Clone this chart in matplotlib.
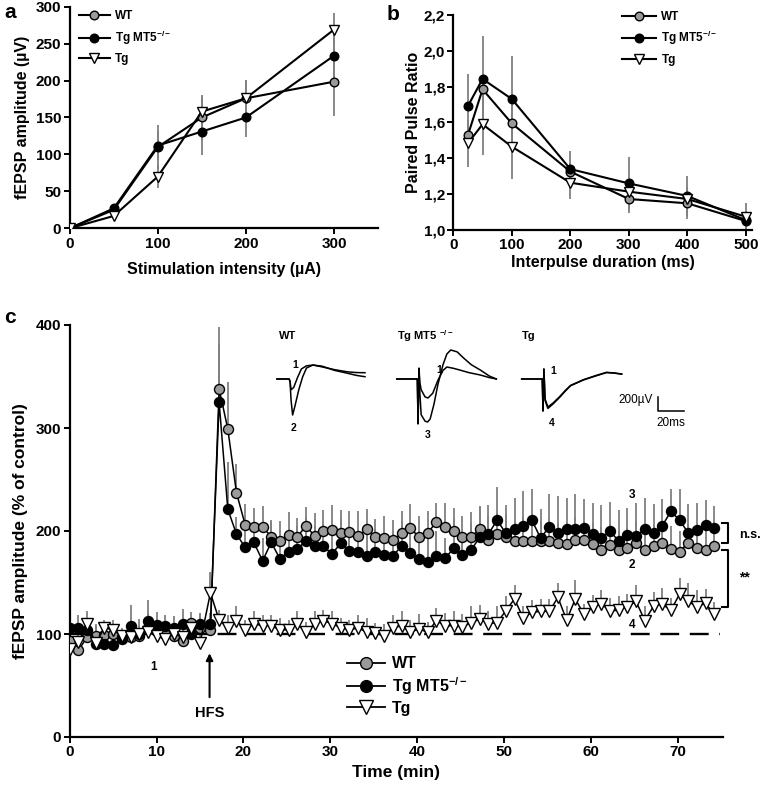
import numpy as np
import matplotlib
matplotlib.use("Agg")
import matplotlib.pyplot as plt
from matplotlib.lines import Line2D
from matplotlib.ticker import FuncFormatter

plt.rcParams['font.family'] = ['Liberation Sans', 'DejaVu Sans']
plt.rcParams['font.weight'] = 'bold'
plt.rcParams['axes.labelweight'] = 'bold'
plt.rcParams['mathtext.fontset'] = 'custom'
plt.rcParams['mathtext.rm'] = 'Liberation Sans'
plt.rcParams['mathtext.it'] = 'Liberation Sans:italic'
plt.rcParams['mathtext.bf'] = 'Liberation Sans:bold'

# ---------------- data ----------------
labels = ["WT", r"Tg MT5$^{-/-}$", "Tg"]

# panel a
stim = [0, 50, 100, 150, 200, 300]
a_wt = [0, 25, 110, 150, 176, 198.5]
a_mt5 = [0, 27, 112, 131, 150, 233.6]
a_tg = [0, 16.7, 70, 158, 176, 269]
a_wt_err = [0, 3, 30, 30, 25, 47]
a_mt5_err = [0, 3, 20, 32, 26, 30]
a_tg_err = [0, 3, 16, 20, 25, 22]

# panel b
ipi = [25, 50, 100, 200, 300, 400, 500]
b_wt = [1.530, 1.785, 1.595, 1.326, 1.173, 1.149, 1.050]
b_mt5 = [1.692, 1.843, 1.731, 1.340, 1.260, 1.190, 1.055]
b_tg = [1.484, 1.590, 1.465, 1.264, 1.214, 1.173, 1.074]
b_wt_err = [0.05, 0.08, 0.10, 0.05, 0.08, 0.09, 0.05]
b_mt5_err = [0.18, 0.24, 0.24, 0.10, 0.15, 0.11, 0.05]
b_tg_err = [0.13, 0.17, 0.18, 0.09, 0.07, 0.06, 0.075]

# panel c
time_min = [0, 1, 2, 3, 4, 5, 6, 7, 8, 9, 10, 11, 12, 13, 14, 15,
            16.2, 17.2, 18.2, 19.2, 20.2, 21.2, 22.2, 23.2, 24.2, 25.2, 26.2,
            27.2, 28.2, 29.2, 30.2, 31.2, 32.2, 33.2, 34.2, 35.2, 36.2,
            37.2, 38.2, 39.2, 40.2, 41.2, 42.2, 43.2, 44.2, 45.2, 46.2,
            47.2, 48.2, 49.2, 50.2, 51.2, 52.2, 53.2, 54.2, 55.2, 56.2,
            57.2, 58.2, 59.2, 60.2, 61.2, 62.2, 63.2, 64.2, 65.2, 66.2,
            67.2, 68.2, 69.2, 70.2, 71.2, 72.2, 73.2, 74.2]

c_wt = [93.5, 84, 97, 98, 99, 100, 97, 97, 98, 106, 103, 100, 98, 93.5, 111, 106,
        104,
        338, 299, 237, 206, 204, 204, 194.5, 190, 196, 194.5,
        205, 195, 200, 201, 198, 199, 195, 201.6, 194, 193,
        191, 197.7, 202.6, 194.5, 197.7, 209, 203.6, 200, 194.5, 194.5,
        201.6, 191, 197, 194.5, 190, 190, 190, 190, 190, 188,
        187.5, 191.6, 191.6, 187.6, 181.8, 186.7, 182, 183.2, 188, 181.5,
        185.4, 188, 183, 180, 188.6, 183.2, 181.5, 185.4]
c_mt5 = [106, 106, 104, 90, 90, 89, 95, 108, 100, 113, 109, 108, 105.5, 110, 100, 110,
         110,
         325, 221, 197, 184, 189, 171, 189, 173, 180, 183,
         190, 185, 185, 178, 188, 181, 180, 175.5, 180, 176.5,
         175.7, 185.5, 179, 172.5, 170.2, 175.7, 173.4, 183.2, 176.7, 181.5,
         194, 197, 210.7, 197.7, 202, 205, 210.7, 193, 204, 197.7,
         202, 201.6, 203, 197, 193.5, 200, 190, 196.5, 195, 202,
         198, 205, 219, 210.7, 198, 201, 206, 202.6]
c_tg = [85.5, 92, 110, 91, 106, 104, 98, 97, 100, 101.6, 98, 95, 100, 97, 106, 91,
        140,
        113.5, 106, 113, 104, 110, 108, 108, 104, 104, 110,
        101.6, 110, 113, 110, 106, 104, 106, 101.6, 101, 98,
        106, 108, 101.6, 105, 101.6, 113, 108, 108, 107, 111,
        114.5, 110, 111, 122.6, 134, 115.5, 121, 122, 122, 135.5,
        113.5, 134, 119, 126, 129, 122.6, 123, 126.5, 131.6, 113,
        127, 129, 123, 138.7, 131.6, 126.5, 129.7, 119]

c_wt_err = [8, 10, 14, 10, 12, 10, 8, 12, 10, 14, 10, 10, 10, 8, 10, 12,
            8,
            60, 46, 28, 20, 18, 20, 16, 20, 22, 18,
            18, 22, 20, 24, 22, 20, 24, 20, 18, 22,
            20, 22, 24, 20, 22, 18, 24, 22, 20, 24,
            22, 24, 20, 22, 20, 24, 22, 20, 22, 20,
            20, 22, 18, 20, 22, 20, 18, 20, 22, 20,
            20, 18, 22, 20, 18, 20, 22, 18]
c_mt5_err = [10, 12, 8, 20, 15, 12, 10, 20, 15, 20, 12, 10, 12, 14, 10, 10,
             10,
             57, 46, 17, 20, 18, 22, 20, 18, 20, 22,
             24, 20, 22, 26, 24, 22, 20, 24, 22, 20,
             22, 24, 20, 26, 22, 24, 20, 28, 22, 26,
             30, 28, 32, 28, 30, 34, 30, 28, 32, 36,
             30, 34, 28, 30, 32, 28, 30, 26, 32, 30,
             28, 26, 22, 30, 28, 26, 24, 22]
c_tg_err = [8, 10, 12, 10, 8, 10, 8, 6, 8, 10, 8, 8, 10, 8, 10, 8,
            20,
            10, 12, 14, 10, 12, 10, 10, 12, 10, 12,
            10, 12, 10, 12, 10, 10, 12, 14, 10, 12,
            12, 14, 12, 14, 10, 12, 12, 14, 12, 16,
            14, 12, 16, 14, 14, 12, 12, 12, 12, 14,
            14, 18, 10, 12, 14, 12, 14, 12, 16, 14,
            14, 16, 12, 16, 18, 16, 14, 12]

# example traces (ms, uV relative to baseline)
wt_tr1_t = [0, 9.5, 10.2, 11, 13, 16, 19, 23, 28, 35, 45, 55, 62, 68.5]
wt_tr1_v = [0, 0, -30, -150, -120, 20, 140, 185, 195, 180, 120, 80, 50, 32]
wt_tr2_t = [0, 9.5, 10.2, 11, 12.2, 14, 17, 20, 23, 28, 35, 45, 55, 62, 68.5]
wt_tr2_v = [0, 0, -40, -300, -504, -380, -150, 30, 154, 196, 170, 130, 100, 90, 88]
mt5_tr1_t = [0, 16, 16.6, 17.3, 18, 19, 22, 24.3, 28, 32, 36, 39, 44, 49, 56, 65, 72, 77.5]
mt5_tr1_v = [0, 0, -600, 150, -50, -150, -250, -266, -200, -20, 120, 168, 150, 126, 90, 56, 20, 0]
mt5_tr3_t = [0, 16, 16.6, 17.3, 18, 19, 22, 24, 26, 29, 32, 36, 39, 42, 47, 52, 58, 65, 72, 77.5]
mt5_tr3_v = [0, 0, -630, 150, -200, -500, -590, -602, -560, -350, -80, 200, 350, 406, 380, 294, 200, 126, 42, 0]
tg_tr1_t = [0, 16, 16.6, 17.3, 18.2, 20.4, 24.4, 29.5, 34, 38, 48, 58, 66, 72, 77.8]
tg_tr1_v = [0, 0, -440, 140, -280, -392, -336, -248, -160, -90, -10, 50, 93, 85, 70]
tg_tr4_v = [0, 0, -450, 140, -300, -412, -350, -258, -168, -95, -14, 45, 90, 82, 68]

# ---------------- figure ----------------
W, H = 761, 789
fig = plt.figure(figsize=(W / 100, H / 100), dpi=100)

def px_axes(l, t, r, b):
    return fig.add_axes([l / W, 1 - b / H, (r - l) / W, (b - t) / H])

GRAY = '#9a9a9a'
ECOL = '#808080'

def style(ax):
    for s in ['top', 'right']:
        ax.spines[s].set_visible(False)
    for s in ['left', 'bottom']:
        ax.spines[s].set_linewidth(1.6)
    ax.tick_params(direction='out', length=4, width=1.4, labelsize=11, pad=2)
    for lab in ax.get_xticklabels() + ax.get_yticklabels():
        lab.set_fontweight('bold')

series_style = [
    dict(marker='o', mfc=GRAY, mec='black'),
    dict(marker='o', mfc='black', mec='black'),
    dict(marker='v', mfc='white', mec='black'),
]

# ----- panel a -----
axa = px_axes(69.7, 6.7, 378, 228.3)
for y, e in zip([a_wt, a_mt5, a_tg], [a_wt_err, a_mt5_err, a_tg_err]):
    axa.errorbar(stim, y, yerr=e, fmt='none', ecolor=ECOL, elinewidth=1.3, capsize=0, zorder=1)
for y, st, lab in zip([a_wt, a_mt5, a_tg], series_style, labels):
    axa.plot(stim, y, color='black', lw=1.5, ms=6.2 if st['marker'] == 'o' else 7,
             mew=1.0, zorder=3, label=lab, **st)
axa.set_xlim(0, 350)
axa.set_ylim(0, 300)
axa.set_xticks([0, 100, 200, 300])
axa.set_yticks([0, 50, 100, 150, 200, 250, 300])
axa.set_xlabel("Stimulation intensity (µA)", fontsize=11.5, labelpad=8)
axa.set_ylabel("fEPSP amplitude (µV)", fontsize=11.5, labelpad=4)
style(axa)
axa.legend(loc='upper left', bbox_to_anchor=(0.03, 0.985), frameon=False,
           handlelength=2.6, handletextpad=0.45, labelspacing=0.55, borderpad=0, borderaxespad=0,
           prop={'weight': 'bold', 'size': 8.5})

# ----- panel b -----
axb = px_axes(453.3, 15, 751.7, 230)
for y, e in zip([b_wt, b_mt5, b_tg], [b_wt_err, b_mt5_err, b_tg_err]):
    axb.errorbar(ipi, y, yerr=e, fmt='none', ecolor=ECOL, elinewidth=1.3, capsize=0, zorder=1)
for y, st, lab in zip([b_wt, b_mt5, b_tg], series_style, labels):
    axb.plot(ipi, y, color='black', lw=1.5, ms=6.2 if st['marker'] == 'o' else 7,
             mew=1.0, zorder=3, label=lab, **st)
axb.set_xlim(0, 510)
axb.set_ylim(1.0, 2.2)
axb.set_xticks([0, 100, 200, 300, 400, 500])
axb.set_yticks([1.0, 1.2, 1.4, 1.6, 1.8, 2.0, 2.2])
axb.yaxis.set_major_formatter(FuncFormatter(lambda v, p: f"{v:.1f}".replace('.', ',')))
axb.set_xlabel("Interpulse duration (ms)", fontsize=11.5, labelpad=2)
axb.set_ylabel("Paired Pulse Ratio", fontsize=11.5, labelpad=2)
style(axb)
axb.legend(loc='upper left', bbox_to_anchor=(0.565, 1.02), frameon=False,
           handlelength=2.9, handletextpad=0.45, labelspacing=0.55, borderpad=0, borderaxespad=0,
           prop={'weight': 'bold', 'size': 8.5})

# ----- panel c -----
axc = px_axes(69.7, 325, 723, 737)
t = np.array(time_min)
for y, e in zip([c_mt5, c_wt, c_tg], [c_mt5_err, c_wt_err, c_tg_err]):
    axc.errorbar(t, y, yerr=[np.zeros(len(e)), e], fmt='none', ecolor=ECOL,
                 elinewidth=1.3, capsize=0, zorder=1)
order = [1, 0, 2]
data_c = [c_wt, c_mt5, c_tg]
for i in order:
    st = series_style[i]
    axc.plot(t, data_c[i], color='black', lw=1.1, ms=7.2 if st['marker'] == 'o' else 8.2,
             mew=1.0, zorder=3 + i, **st)
axc.axhline(100, xmin=0, xmax=74.8 / 75.2, color='black', lw=1.7, ls=(0, (8, 4.5)), zorder=2)
axc.set_xlim(0, 75.2)
axc.set_ylim(0, 400)
axc.set_xticks([0, 10, 20, 30, 40, 50, 60, 70])
axc.set_yticks([0, 100, 200, 300, 400])
axc.set_xlabel("Time (min)", fontsize=12.5, labelpad=4)
axc.set_ylabel("fEPSP amplitude (% of control)", fontsize=12.5, labelpad=6)
style(axc)

handles = [Line2D([], [], color='black', lw=1.3, ms=8.5 if st['marker'] == 'o' else 9.5,
                  mew=1.0, **st) for st in series_style]
axc.legend(handles, labels, loc='upper left', bbox_to_anchor=(0.424, 0.196), frameon=False,
           handlelength=2.4, handletextpad=0.45, labelspacing=0.25, borderpad=0, borderaxespad=0,
           prop={'weight': 'bold', 'size': 11.5})

# annotations
axc.annotate("", xy=(16.1, 84), xytext=(16.1, 36),
             arrowprops=dict(arrowstyle='-|>', color='black', lw=1.5, mutation_scale=10))
axc.text(16.1, 23, "HFS", ha='center', va='center', fontsize=10.5, fontweight='bold')
axc.text(9.6, 68, "1", ha='center', va='center', fontsize=8.5, fontweight='bold')
axc.text(64.7, 235, "3", ha='center', va='center', fontsize=8.5, fontweight='bold')
axc.text(64.7, 167, "2", ha='center', va='center', fontsize=8.5, fontweight='bold')
axc.text(64.7, 109, "4", ha='center', va='center', fontsize=8.5, fontweight='bold')
# brackets
axc.plot([75.1, 75.8, 75.8, 75.1], [207.5, 207.5, 188.5, 188.5], color='black', lw=1.5, clip_on=False)
axc.plot([75.1, 75.8, 75.8, 75.1], [181.5, 181.5, 126.5, 126.5], color='black', lw=1.5, clip_on=False)
axc.text(77.0, 196, "n.s.", ha='left', va='center', fontsize=9, fontweight='bold', clip_on=False)
axc.text(77.0, 155, "**", ha='left', va='center', fontsize=10, fontweight='bold', clip_on=False)

# ----- example traces inset -----
axt = px_axes(270, 320, 700, 445)
axt.set_xlim(0, 430 * 0.778)
axt.set_ylim((379 - 445) * 14, (379 - 320) * 14)
axt.axis('off')
off_wt, off_mt5, off_tg = 5.4, 98.6, 195.8
for tt, vv in [(wt_tr1_t, wt_tr1_v), (wt_tr2_t, wt_tr2_v)]:
    axt.plot(np.array(tt) + off_wt, vv, color='black', lw=1.1)
for tt, vv in [(mt5_tr1_t, mt5_tr1_v), (mt5_tr3_t, mt5_tr3_v)]:
    axt.plot(np.array(tt) + off_mt5, vv, color='black', lw=1.1)
for vv in [tg_tr1_v, tg_tr4_v]:
    axt.plot(np.array(tg_tr1_t) + off_tg, vv, color='black', lw=1.1)
axt.text(7, 602, "WT", ha='left', va='center', fontsize=8, fontweight='bold')
axt.text(98.6, 602, r"Tg MT5 $^{-/-}$", ha='left', va='center', fontsize=8, fontweight='bold')
axt.text(195.8, 602, "Tg", ha='left', va='center', fontsize=8, fontweight='bold')
for x, y, s in [(19.5, 196, "1"), (18.1, -682, "2"), (132, 126, "1"), (123, -784, "3"),
                (220, 116, "1"), (219, -620, "4")]:
    axt.text(x, y, s, ha='center', va='center', fontsize=7.5, fontweight='bold')
# scale bar
axt.plot([302, 302, 322], [-248, -448, -448], color='black', lw=1.1)
axt.text(298, -294, "200µV", ha='right', va='center', fontsize=8.5, fontweight='normal')
axt.text(312, -616, "20ms", ha='center', va='center', fontsize=8.5, fontweight='normal')

# panel letters
fig.text(10 / W, 1 - 12 / H, "a", fontsize=15, fontweight='bold', ha='center', va='center')
fig.text(393 / W, 1 - 14 / H, "b", fontsize=15, fontweight='bold', ha='center', va='center')
fig.text(10 / W, 1 - 317 / H, "c", fontsize=15, fontweight='bold', ha='center', va='center')

fig.savefig("out.png", dpi=100)
